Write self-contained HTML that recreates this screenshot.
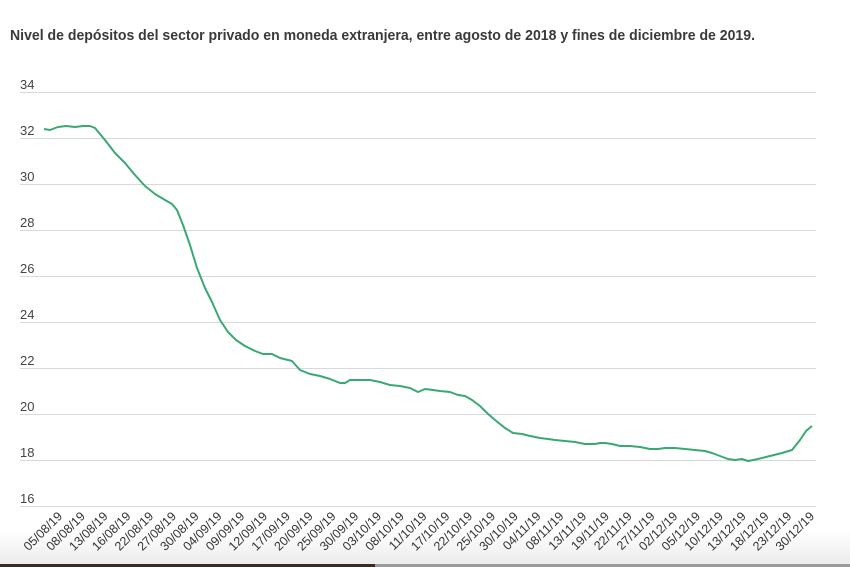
<!DOCTYPE html>
<html><head><meta charset="utf-8"><style>
html,body{margin:0;padding:0;background:#fff;}
svg{display:block;font-family:"Liberation Sans",sans-serif;}
</style></head><body>
<svg width="850" height="567" viewBox="0 0 850 567" xmlns="http://www.w3.org/2000/svg">
<defs><linearGradient id="g" x1="0" y1="0" x2="0" y2="1"><stop offset="0" stop-color="#fff"/><stop offset="1" stop-color="#ececec"/></linearGradient></defs>
<rect x="0" y="530" width="850" height="34" fill="url(#g)"/>
<text x="10" y="40" font-size="15" font-weight="bold" fill="#3a3a3a" textLength="745" lengthAdjust="spacingAndGlyphs">Nivel de depósitos del sector privado en moneda extranjera, entre agosto de 2018 y fines de diciembre de 2019.</text>
<g stroke="#d9d9d9" stroke-width="1">
<line x1="20" x2="816" y1="92.5" y2="92.5"/><line x1="20" x2="816" y1="138.5" y2="138.5"/><line x1="20" x2="816" y1="184.5" y2="184.5"/><line x1="20" x2="816" y1="230.5" y2="230.5"/><line x1="20" x2="816" y1="276.5" y2="276.5"/><line x1="20" x2="816" y1="322.5" y2="322.5"/><line x1="20" x2="816" y1="368.5" y2="368.5"/><line x1="20" x2="816" y1="414.5" y2="414.5"/><line x1="20" x2="816" y1="460.5" y2="460.5"/><line x1="20" x2="816" y1="506.5" y2="506.5"/>
</g>
<g font-size="13" fill="#444">
<text x="20" y="89">34</text><text x="20" y="135">32</text><text x="20" y="181">30</text><text x="20" y="227">28</text><text x="20" y="273">26</text><text x="20" y="319">24</text><text x="20" y="365">22</text><text x="20" y="411">20</text><text x="20" y="457">18</text><text x="20" y="503">16</text>
</g>
<polyline fill="none" stroke="#3aa874" stroke-width="2" stroke-linejoin="round" points="44,129 50,130 58,127 66,126 75,127 83,126 90,126 95,128 105,140 115,153 125,163 135,175 145,186 155,194 165,200 172,204 177,210 183,225 190,245 197,268 205,288 212,302 220,320 228,332 236,340 245,346 255,351 263,354 272,354 280,358 292,361 300,370 310,374 320,376 330,379 340,383 345,383 350,380 360,380 370,380 380,382 390,385 400,386 410,388 418,392 425,389 433,390 440,391 450,392 458,395 465,396 472,400 480,406 487,413 495,420 505,428 513,433 522,434 530,436 540,438 548,439 555,440 565,441 575,442 585,444 595,444 600,443 605,443 612,444 620,446 630,446 640,447 650,449 658,449 665,448 675,448 685,449 695,450 705,451 712,453 720,456 728,459 735,460 742,459 748,461 758,459 770,456 782,453 792,450 800,440 806,431 812,426"/>
<g font-size="12.5" fill="#333" text-anchor="end">
<text transform="translate(63,517) rotate(-45)">05/08/19</text>
<text transform="translate(85.8,517) rotate(-45)">08/08/19</text>
<text transform="translate(108.6,517) rotate(-45)">13/08/19</text>
<text transform="translate(131.4,517) rotate(-45)">16/08/19</text>
<text transform="translate(154.2,517) rotate(-45)">22/08/19</text>
<text transform="translate(176.9,517) rotate(-45)">27/08/19</text>
<text transform="translate(199.7,517) rotate(-45)">30/08/19</text>
<text transform="translate(222.5,517) rotate(-45)">04/09/19</text>
<text transform="translate(245.3,517) rotate(-45)">09/09/19</text>
<text transform="translate(268.1,517) rotate(-45)">12/09/19</text>
<text transform="translate(290.9,517) rotate(-45)">17/09/19</text>
<text transform="translate(313.7,517) rotate(-45)">20/09/19</text>
<text transform="translate(336.5,517) rotate(-45)">25/09/19</text>
<text transform="translate(359.3,517) rotate(-45)">30/09/19</text>
<text transform="translate(382.1,517) rotate(-45)">03/10/19</text>
<text transform="translate(404.8,517) rotate(-45)">08/10/19</text>
<text transform="translate(427.6,517) rotate(-45)">11/10/19</text>
<text transform="translate(450.4,517) rotate(-45)">17/10/19</text>
<text transform="translate(473.2,517) rotate(-45)">22/10/19</text>
<text transform="translate(496,517) rotate(-45)">25/10/19</text>
<text transform="translate(518.8,517) rotate(-45)">30/10/19</text>
<text transform="translate(541.6,517) rotate(-45)">04/11/19</text>
<text transform="translate(564.4,517) rotate(-45)">08/11/19</text>
<text transform="translate(587.2,517) rotate(-45)">13/11/19</text>
<text transform="translate(609.9,517) rotate(-45)">19/11/19</text>
<text transform="translate(632.7,517) rotate(-45)">22/11/19</text>
<text transform="translate(655.5,517) rotate(-45)">27/11/19</text>
<text transform="translate(678.3,517) rotate(-45)">02/12/19</text>
<text transform="translate(701.1,517) rotate(-45)">05/12/19</text>
<text transform="translate(723.9,517) rotate(-45)">10/12/19</text>
<text transform="translate(746.7,517) rotate(-45)">13/12/19</text>
<text transform="translate(769.5,517) rotate(-45)">18/12/19</text>
<text transform="translate(792.3,517) rotate(-45)">23/12/19</text>
<text transform="translate(815,517) rotate(-45)">30/12/19</text>
</g>
<rect x="0" y="564" width="375" height="3" fill="#3b2a1e"/>
<rect x="375" y="564" width="475" height="3" fill="#9a9a9a"/>
</svg>
</body></html>
